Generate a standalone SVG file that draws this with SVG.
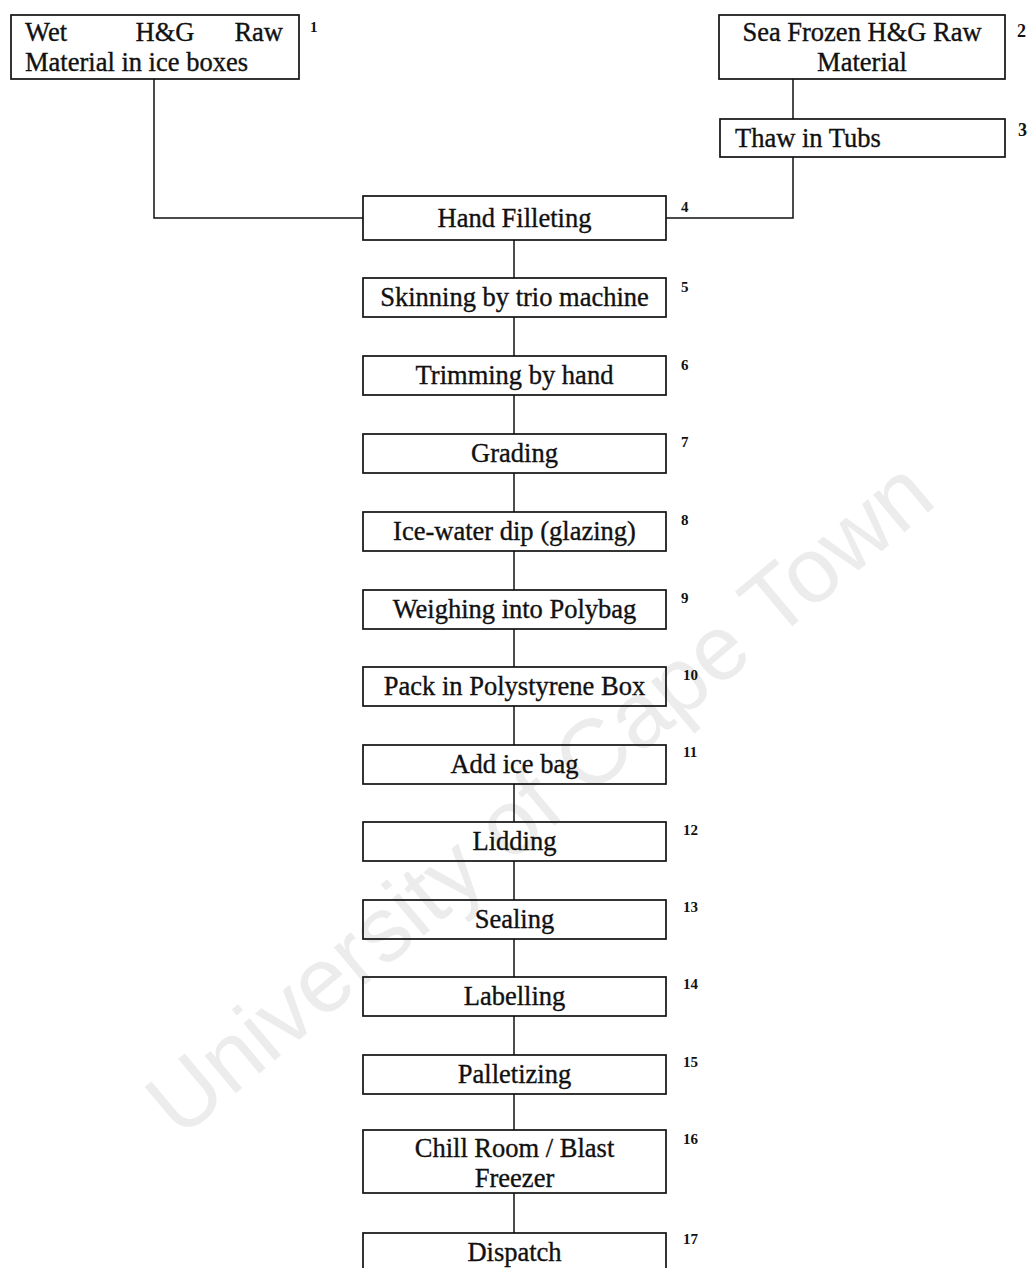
<svg xmlns="http://www.w3.org/2000/svg" width="1032" height="1268" viewBox="0 0 1032 1268">
<style>
.box{fill:none;stroke:#111;stroke-width:1.7}
.t{font-family:"Liberation Serif","Times New Roman",serif;font-size:26.5px;fill:#111;stroke:#111;stroke-width:0.35}
.c{text-anchor:middle}
.n{font-family:"Liberation Serif","Times New Roman",serif;font-size:15px;font-weight:bold;fill:#111}
.nb{font-family:"Liberation Serif","Times New Roman",serif;font-size:18px;font-weight:bold;fill:#111}
.wm{font-family:"Liberation Sans",Arial,sans-serif;font-size:92px;fill:#ececec}
#connectors path{fill:none;stroke:#111;stroke-width:1.5}
</style>
<rect width="1032" height="1268" fill="#fff"/>
<text class="wm" transform="translate(180 1140) rotate(-40)">University of Cape Town</text>
<g id="connectors">
<path d="M154 79V218H363"/>
<path d="M793 79V119"/>
<path d="M793 157V218H666"/>
<path d="M514 240V278"/>
<path d="M514 317V356"/>
<path d="M514 395V434"/>
<path d="M514 473V512"/>
<path d="M514 551V590"/>
<path d="M514 629V667"/>
<path d="M514 706V745"/>
<path d="M514 784V822"/>
<path d="M514 861V900"/>
<path d="M514 939V977"/>
<path d="M514 1016V1055"/>
<path d="M514 1094V1130"/>
<path d="M514 1193V1233"/>
</g>
<g id="n1"><rect class="box" x="11" y="15" width="288" height="64"/>
<text class="t" x="25" y="41">Wet</text><text class="t c" x="165" y="41">H&amp;G</text><text class="t" x="283" y="41" text-anchor="end">Raw</text>
<text class="t" x="25" y="71">Material in ice boxes</text>
<text class="n" x="310" y="32">1</text></g>
<g id="n2"><rect class="box" x="719" y="15" width="286" height="64"/>
<text class="t c" x="862" y="41">Sea Frozen H&amp;G Raw</text>
<text class="t c" x="862" y="71">Material</text>
<text class="nb" x="1017" y="37">2</text></g>
<g id="n3"><rect class="box" x="720" y="119" width="285" height="38"/>
<text class="t" x="735" y="147">Thaw in Tubs</text>
<text class="nb" x="1018" y="136">3</text></g>
<g id="n4"><rect class="box" x="363" y="196" width="303" height="44"/>
<text class="t c" x="514.5" y="227">Hand Filleting</text><text class="n" x="681" y="212">4</text></g>
<g id="n5"><rect class="box" x="363" y="278" width="303" height="39"/>
<text class="t c" x="514.5" y="306">Skinning by trio machine</text><text class="n" x="681" y="292">5</text></g>
<g id="n6"><rect class="box" x="363" y="356" width="303" height="39"/>
<text class="t c" x="514.5" y="384">Trimming by hand</text><text class="n" x="681" y="370">6</text></g>
<g id="n7"><rect class="box" x="363" y="434" width="303" height="39"/>
<text class="t c" x="514.5" y="462">Grading</text><text class="n" x="681" y="447">7</text></g>
<g id="n8"><rect class="box" x="363" y="512" width="303" height="39"/>
<text class="t c" x="514.5" y="540">Ice-water dip (glazing)</text><text class="n" x="681" y="525">8</text></g>
<g id="n9"><rect class="box" x="363" y="590" width="303" height="39"/>
<text class="t c" x="514.5" y="618">Weighing into Polybag</text><text class="n" x="681" y="603">9</text></g>
<g id="n10"><rect class="box" x="363" y="667" width="303" height="39"/>
<text class="t c" x="514.5" y="695">Pack in Polystyrene Box</text><text class="n" x="683" y="680">10</text></g>
<g id="n11"><rect class="box" x="363" y="745" width="303" height="39"/>
<text class="t c" x="514.5" y="773">Add ice bag</text><text class="n" x="683" y="757">11</text></g>
<g id="n12"><rect class="box" x="363" y="822" width="303" height="39"/>
<text class="t c" x="514.5" y="850">Lidding</text><text class="n" x="683" y="835">12</text></g>
<g id="n13"><rect class="box" x="363" y="900" width="303" height="39"/>
<text class="t c" x="514.5" y="928">Sealing</text><text class="n" x="683" y="912">13</text></g>
<g id="n14"><rect class="box" x="363" y="977" width="303" height="39"/>
<text class="t c" x="514.5" y="1005">Labelling</text><text class="n" x="683" y="989">14</text></g>
<g id="n15"><rect class="box" x="363" y="1055" width="303" height="39"/>
<text class="t c" x="514.5" y="1083">Palletizing</text><text class="n" x="683" y="1067">15</text></g>
<g id="n16"><rect class="box" x="363" y="1130" width="303" height="63"/>
<text class="t c" x="514.5" y="1157">Chill Room / Blast</text>
<text class="t c" x="514.5" y="1187">Freezer</text><text class="n" x="683" y="1144">16</text></g>
<g id="n17"><rect class="box" x="363" y="1233" width="303" height="45"/>
<text class="t c" x="514.5" y="1261">Dispatch</text><text class="n" x="683" y="1244">17</text></g>
</svg>
